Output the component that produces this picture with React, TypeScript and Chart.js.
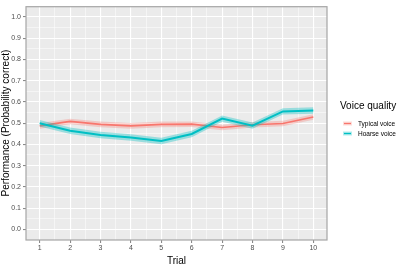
import React, { useEffect, useRef } from "react";
import { Chart, registerables } from "chart.js";

Chart.register(...registerables);

const trials = [1, 2, 3, 4, 5, 6, 7, 8, 9, 10];
const typicalVoice = [0.487, 0.508, 0.494, 0.487, 0.494, 0.495, 0.479, 0.492, 0.498, 0.529];
const hoarseVoice = [0.499, 0.464, 0.444, 0.432, 0.416, 0.449, 0.521, 0.488, 0.555, 0.559];
const typicalBand = 0.013;
const hoarseBand = 0.015;
const yTickLabels = ["0.0", "0.1", "0.2", "0.3", "0.4", "0.5", "0.6", "0.7", "0.8", "0.9", "1.0"];
const seriesNames = ["Typical voice", "Hoarse voice"];
const legendTitle = "Voice quality";
const xTitle = "Trial";
const yTitle = "Performance (Probability correct)";

const RED = "#F8766D";
const TEAL = "#00BFC4";
const FONT = "'Liberation Sans', Arial, sans-serif";

const pts = (vals: number[], off = 0) => vals.map((v, i) => ({ x: trials[i], y: v + off }));

const isMajorX = (v: number) => Math.abs(v - Math.round(v)) < 1e-6;
const isMajorY = (v: number) => Math.abs(v * 10 - Math.round(v * 10)) < 1e-6;

const framePlugin = {
  id: "frame",
  afterDraw(chart: any) {
    const { ctx, chartArea } = chart;
    ctx.save();
    ctx.strokeStyle = "#A6A6A6";
    ctx.lineWidth = 1.2;
    ctx.strokeRect(chartArea.left, chartArea.top + 0.5, chartArea.right - chartArea.left, chartArea.bottom - chartArea.top - 0.5);
    // legend
    ctx.fillStyle = "#000";
    ctx.font = `10px ${FONT}`;
    ctx.textBaseline = "alphabetic";
    ctx.textAlign = "left";
    ctx.fillText(legendTitle, 340, 109);
    const items = [
      { name: seriesNames[0], color: RED, band: "rgba(248,118,109,0.25)", y: 123.5 },
      { name: seriesNames[1], color: TEAL, band: "rgba(0,191,196,0.3)", y: 133.5 },
    ];
    ctx.font = `6.5px ${FONT}`;
    ctx.textBaseline = "middle";
    items.forEach((it) => {
      ctx.fillStyle = it.band;
      ctx.fillRect(343, it.y - 2, 9, 4);
      ctx.strokeStyle = it.color;
      ctx.lineWidth = 1.3;
      ctx.beginPath();
      ctx.moveTo(344, it.y);
      ctx.lineTo(351, it.y);
      ctx.stroke();
      ctx.fillStyle = "#000";
      ctx.fillText(it.name, 358, it.y + 0.5);
    });
    ctx.restore();
  },
};

const bgPlugin = {
  id: "panelbg",
  beforeDraw(chart: any) {
    const { ctx, chartArea } = chart;
    ctx.save();
    ctx.fillStyle = "#FFFFFF";
    ctx.fillRect(0, 0, chart.width, chart.height);
    ctx.fillStyle = "#EBEBEB";
    ctx.fillRect(chartArea.left, chartArea.top, chartArea.right - chartArea.left, chartArea.bottom - chartArea.top);
    ctx.restore();
  },
};

export default function App() {
  const ref = useRef<HTMLCanvasElement>(null);
  useEffect(() => {
    if (!ref.current) return;
    const chart = new Chart(ref.current, {
      type: "line",
      data: {
        datasets: [
          { label: "t-up", data: pts(typicalVoice, typicalBand), borderWidth: 0, pointRadius: 0, fill: false, backgroundColor: "rgba(248,118,109,0.3)", order: 4 } as any,
          { label: "t-lo", data: pts(typicalVoice, -typicalBand), borderWidth: 0, pointRadius: 0, fill: "-1", backgroundColor: "rgba(248,118,109,0.3)", order: 4 } as any,
          { label: seriesNames[0], data: pts(typicalVoice), borderColor: RED, borderWidth: 1.6, pointRadius: 0, fill: false, tension: 0, order: 3 } as any,
          { label: "h-up", data: pts(hoarseVoice, hoarseBand), borderWidth: 0, pointRadius: 0, fill: false, backgroundColor: "rgba(0,191,196,0.35)", order: 2 } as any,
          { label: "h-lo", data: pts(hoarseVoice, -hoarseBand), borderWidth: 0, pointRadius: 0, fill: "-1", backgroundColor: "rgba(0,191,196,0.35)", order: 2 } as any,
          { label: seriesNames[1], data: pts(hoarseVoice), borderColor: TEAL, borderWidth: 2, pointRadius: 0, fill: false, tension: 0, order: 1 } as any,
        ],
      },
      options: {
        responsive: false,
        animation: false,
        events: [],
        layout: { padding: { top: 0, right: 73, left: 0, bottom: 0 } },
        plugins: { legend: { display: false }, tooltip: { enabled: false } },
        scales: {
          x: {
            type: "linear",
            min: 0.55,
            max: 10.45,
            afterBuildTicks: (s: any) => {
              const t = [];
              for (let v = 1; v <= 10.001; v += 0.5) t.push({ value: v });
              s.ticks = t;
            },
            afterFit: (s: any) => {
              s.height = 26;
            },
            border: { display: false },
            grid: {
              color: "#FFFFFF",
              lineWidth: (c: any) => (isMajorX(c.tick.value) ? 1.1 : 0.5),
              tickColor: (c: any) => (isMajorX(c.tick.value) ? "#8A8A8A" : "rgba(0,0,0,0)"),
              tickLength: 3,
              drawTicks: true,
            },
            ticks: {
              autoSkip: false,
              maxRotation: 0,
              padding: 1,
              color: "#4D4D4D",
              font: { family: FONT, size: 7 },
              callback: (v: any) => (isMajorX(Number(v)) ? String(Math.round(Number(v))) : ""),
            },
            title: { display: true, text: xTitle, color: "#000", font: { family: FONT, size: 10 }, padding: { top: 0, bottom: -1 } },
          },
          y: {
            type: "linear",
            min: -0.05,
            max: 1.05,
            afterBuildTicks: (s: any) => {
              const t = [];
              for (let i = 0; i <= 20; i++) t.push({ value: i * 0.05 });
              s.ticks = t;
            },
            afterFit: (s: any) => {
              s.width = 26;
            },
            border: { display: false },
            grid: {
              color: "#FFFFFF",
              lineWidth: (c: any) => (isMajorY(c.tick.value) ? 1.1 : 0.5),
              tickColor: (c: any) => (isMajorY(c.tick.value) ? "#8A8A8A" : "rgba(0,0,0,0)"),
              tickLength: 3,
              drawTicks: true,
            },
            ticks: {
              autoSkip: false,
              padding: 2,
              color: "#4D4D4D",
              font: { family: FONT, size: 7 },
              callback: (v: any) => {
                const n = Number(v);
                return isMajorY(n) ? yTickLabels[Math.round(n * 10)] : "";
              },
            },
            title: { display: true, text: yTitle, color: "#000", font: { family: FONT, size: 10 }, padding: { top: 0, bottom: 0 } },
          },
        },
      },
      plugins: [bgPlugin, framePlugin],
    } as any);
    return () => chart.destroy();
  }, []);
  return (
    <div style={{ position: "absolute", left: 0, top: 0, width: 400, height: 266, background: "#fff" }}>
      <canvas ref={ref} width={400} height={266} style={{ display: "block", width: 400, height: 266 }} />
    </div>
  );
}
